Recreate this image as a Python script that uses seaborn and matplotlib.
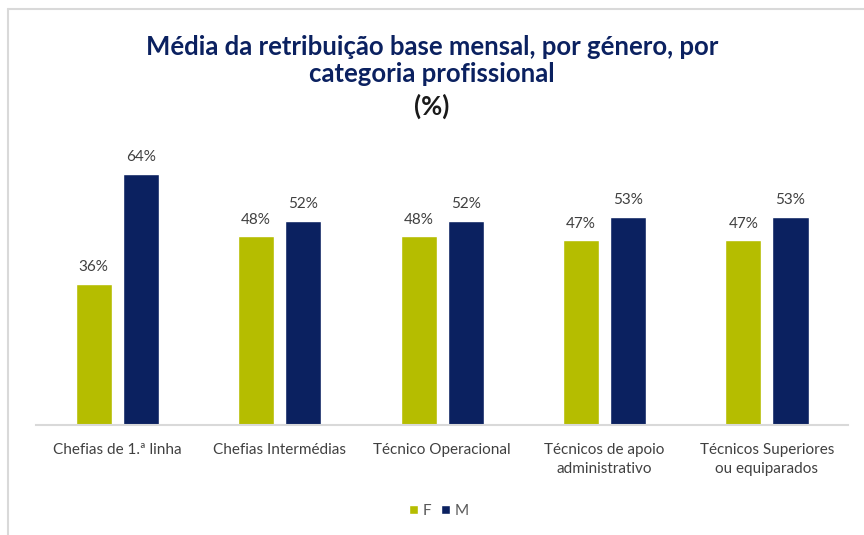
import seaborn as sns
import matplotlib.pyplot as plt
import pandas as pd

# data
categorias = ["Chefias de 1.ª linha", "Chefias Intermédias", "Técnico Operacional",
              "Técnicos de apoio\nadministrativo", "Técnicos Superiores\nou equiparados"]
valores_f = [36, 48, 48, 47, 47]
valores_m = [64, 52, 52, 53, 53]
generos = ["F", "M"]

df = pd.DataFrame({
    "categoria": categorias * 2,
    "genero": ["F"] * len(categorias) + ["M"] * len(categorias),
    "valor": valores_f + valores_m,
})

sns.set_theme(style="white")
plt.rcParams["font.family"] = ["Lato", "DejaVu Sans"]

cor_f = "#B5BD00"
cor_m = "#0B2160"

fig = plt.figure(figsize=(8.64, 5.35), dpi=100)
ax = fig.add_axes([0.0417, 0.2056, 0.94, 0.514])

sns.barplot(data=df, x="categoria", y="valor", hue="genero", hue_order=generos,
            palette=[cor_f, cor_m], width=0.58, gap=0.234, saturation=1,
            legend=True, ax=ax)

for cont in ax.containers:
    ax.bar_label(cont, labels=[f"{v:.0f}%" for v in cont.datavalues],
                 padding=7, fontsize=11, color="#404040")

ax.set_ylim(0, 70)
ax.set_xlim(-0.5, len(categorias) - 0.5)
ax.set_xlabel("")
ax.set_ylabel("")
ax.set_yticks([])
ax.tick_params(axis="x", length=0, pad=13, labelsize=11, labelcolor="#404040")
for lbl in ax.get_xticklabels():
    lbl.set_linespacing(1.45)
for s in ["top", "right", "left"]:
    ax.spines[s].set_visible(False)
ax.spines["bottom"].set_color("#D9D9D9")
ax.spines["bottom"].set_linewidth(1.5)

leg = ax.legend(loc="center", bbox_to_anchor=(0.508, 0.045), bbox_transform=fig.transFigure,
                ncol=2, frameon=False, fontsize=11, handlelength=0.6, handleheight=0.6,
                handletextpad=0.3, columnspacing=0.6)
for t in leg.get_texts():
    t.set_color("#595959")

fig.text(0.5, 0.887, "Média da retribuição base mensal, por género, por\ncategoria profissional",
         ha="center", va="center", fontsize=18.5, fontweight="bold", color="#0B2160",
         linespacing=1.13)
fig.text(0.5, 0.802, "(%)", ha="center", va="center", fontsize=18.5, fontweight="bold",
         color="#1a1a1a")

# light frame at top and left like the original
fig.add_artist(plt.Line2D([0.009, 1.0], [0.983, 0.983], color="#D9D9D9", lw=1.5))
fig.add_artist(plt.Line2D([0.009, 0.009], [0.0, 0.983], color="#D9D9D9", lw=1.5))

fig.savefig("out.png", dpi=100)
